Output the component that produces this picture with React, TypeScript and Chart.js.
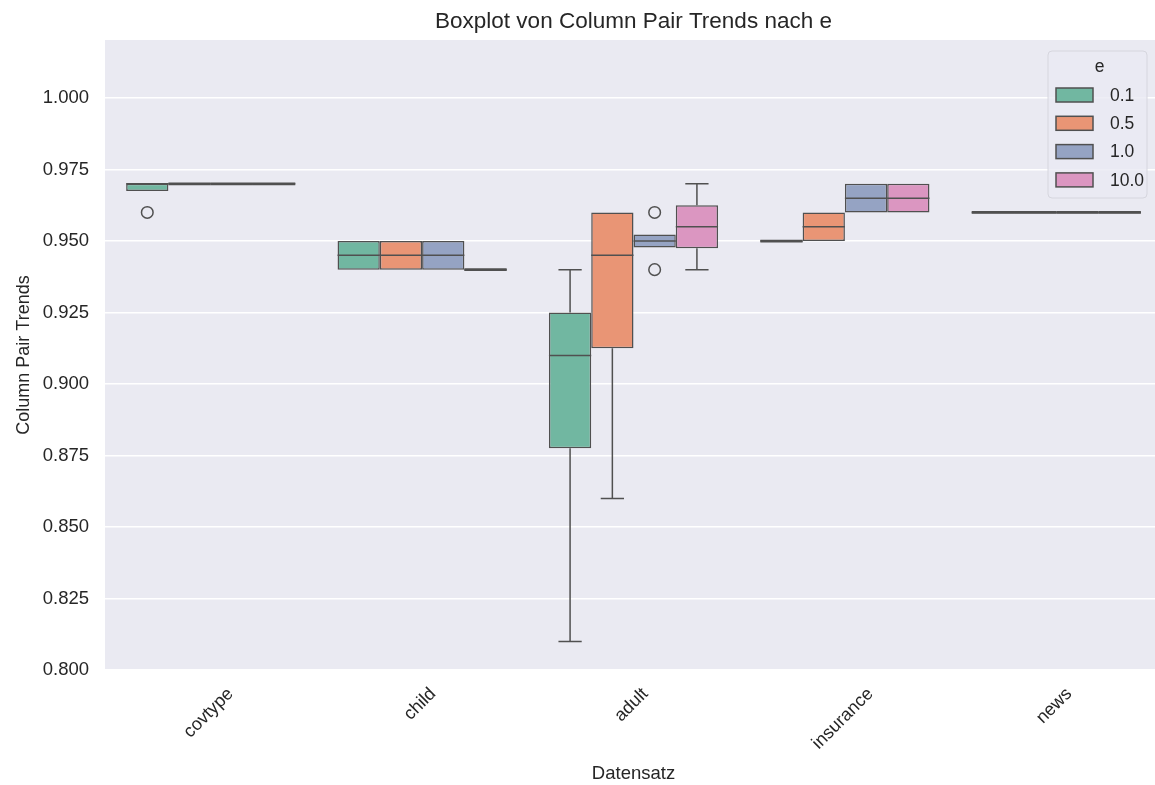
import React, { useEffect, useRef } from "react";
import { Chart, registerables } from "chart.js";

Chart.register(...registerables);

const categories = ["covtype", "child", "adult", "insurance", "news"];
const epsLabels = ["0.1", "0.5", "1.0", "10.0"];
const colors = ["#71b7a1", "#e99575", "#95a3c3", "#db96c1"];
const yTicks = [0.8, 0.825, 0.85, 0.875, 0.9, 0.925, 0.95, 0.975, 1.0];

// per epsilon: values per category
const q1_01 = [0.9675, 0.94, 0.8775, 0.95, 0.96];
const med_01 = [0.97, 0.945, 0.91, 0.95, 0.96];
const q3_01 = [0.97, 0.95, 0.925, 0.95, 0.96];
const lo_01 = [0.9675, 0.94, 0.81, 0.95, 0.96];
const hi_01 = [0.97, 0.95, 0.94, 0.95, 0.96];
const out_01 = [[0.96], [], [], [], []];

const q1_05 = [0.97, 0.94, 0.9125, 0.95, 0.96];
const med_05 = [0.97, 0.945, 0.945, 0.955, 0.96];
const q3_05 = [0.97, 0.95, 0.96, 0.96, 0.96];
const lo_05 = [0.97, 0.94, 0.86, 0.95, 0.96];
const hi_05 = [0.97, 0.95, 0.96, 0.96, 0.96];
const out_05 = [[], [], [], [], []];

const q1_10 = [0.97, 0.94, 0.9477, 0.96, 0.96];
const med_10 = [0.97, 0.945, 0.95, 0.965, 0.96];
const q3_10 = [0.97, 0.95, 0.9523, 0.97, 0.96];
const lo_10 = [0.97, 0.94, 0.9477, 0.96, 0.96];
const hi_10 = [0.97, 0.95, 0.9523, 0.97, 0.96];
const out_10 = [[], [], [0.94, 0.96], [], []];

const q1_100 = [0.97, 0.94, 0.9475, 0.96, 0.96];
const med_100 = [0.97, 0.94, 0.955, 0.965, 0.96];
const q3_100 = [0.97, 0.94, 0.9625, 0.97, 0.96];
const lo_100 = [0.97, 0.94, 0.94, 0.96, 0.96];
const hi_100 = [0.97, 0.94, 0.97, 0.97, 0.96];
const out_100 = [[], [], [], [], []];

const groups = [
  { q1: q1_01, med: med_01, q3: q3_01, lo: lo_01, hi: hi_01, out: out_01 },
  { q1: q1_05, med: med_05, q3: q3_05, lo: lo_05, hi: hi_05, out: out_05 },
  { q1: q1_10, med: med_10, q3: q3_10, lo: lo_10, hi: hi_10, out: out_10 },
  { q1: q1_100, med: med_100, q3: q3_100, lo: lo_100, hi: hi_100, out: out_100 },
];

const LINE = "#505050";
const FONT = "'Liberation Sans', Arial, sans-serif";
const TEXT = "#262626";

const bgPlugin = {
  id: "bgPlugin",
  beforeDraw(chart: any) {
    const { ctx, chartArea, width, height } = chart;
    ctx.save();
    ctx.fillStyle = "#ffffff";
    ctx.fillRect(0, 0, width, height);
    ctx.fillStyle = "#eaeaf2";
    ctx.fillRect(chartArea.left, chartArea.top, chartArea.right - chartArea.left, chartArea.bottom - chartArea.top);
    ctx.restore();
  },
};

const boxPlugin = {
  id: "boxPlugin",
  afterDatasetsDraw(chart: any) {
    const { ctx } = chart;
    const y = chart.scales.y;
    ctx.save();
    ctx.strokeStyle = LINE;
    ctx.lineWidth = 1.5;
    groups.forEach((g, di) => {
      const meta = chart.getDatasetMeta(di);
      meta.data.forEach((bar: any, i: number) => {
        const x = bar.x;
        const w = bar.width;
        const capW = w * 0.55;
        const yq1 = y.getPixelForValue(g.q1[i]);
        const yq3 = y.getPixelForValue(g.q3[i]);
        const ylo = y.getPixelForValue(g.lo[i]);
        const yhi = y.getPixelForValue(g.hi[i]);
        const ym = y.getPixelForValue(g.med[i]);
        ctx.beginPath();
        if (ylo > yq1 + 0.5) {
          ctx.moveTo(x, yq1);
          ctx.lineTo(x, ylo);
          ctx.moveTo(x - capW / 2, ylo);
          ctx.lineTo(x + capW / 2, ylo);
        }
        if (yhi < yq3 - 0.5) {
          ctx.moveTo(x, yq3);
          ctx.lineTo(x, yhi);
          ctx.moveTo(x - capW / 2, yhi);
          ctx.lineTo(x + capW / 2, yhi);
        }
        ctx.moveTo(x - w / 2, ym);
        ctx.lineTo(x + w / 2, ym);
        ctx.stroke();
        if (Math.abs(yq3 - yq1) < 1) {
          ctx.save();
          ctx.lineWidth = 2.8;
          ctx.beginPath();
          ctx.moveTo(x - w / 2, ym);
          ctx.lineTo(x + w / 2, ym);
          ctx.stroke();
          ctx.restore();
        }
        g.out[i].forEach((v: number) => {
          ctx.beginPath();
          ctx.arc(x, y.getPixelForValue(v), 5.8, 0, Math.PI * 2);
          ctx.stroke();
        });
      });
    });
    ctx.restore();
  },
};

const xLabelPlugin = {
  id: "xLabelPlugin",
  afterDraw(chart: any) {
    const { ctx, chartArea } = chart;
    const xs = chart.scales.x;
    ctx.save();
    const fs = 18;
    ctx.font = `${fs}px ${FONT}`;
    ctx.fillStyle = TEXT;
    ctx.textAlign = "center";
    ctx.textBaseline = "middle";
    categories.forEach((c, i) => {
      const px = xs.getPixelForTick(i) - 2;
      const L = ctx.measureText(c).width;
      const h = fs * 0.8;
      const bboxH = (L + h) * Math.SQRT1_2;
      const cy = chartArea.bottom + 16 + bboxH / 2;
      ctx.save();
      ctx.translate(px, cy);
      ctx.rotate(-Math.PI / 4);
      ctx.fillText(c, 0, 0);
      ctx.restore();
    });
    ctx.restore();
  },
};

const legendPlugin = {
  id: "legendPlugin",
  afterDraw(chart: any) {
    const { ctx, chartArea } = chart;
    ctx.save();
    const x0 = chartArea.right - 114;
    const y0 = chartArea.top + 11;
    const w = 99;
    const h = 147;
    const r = 4;
    ctx.beginPath();
    ctx.moveTo(x0 + r, y0);
    ctx.lineTo(x0 + w - r, y0);
    ctx.arcTo(x0 + w, y0, x0 + w, y0 + r, r);
    ctx.lineTo(x0 + w, y0 + h - r);
    ctx.arcTo(x0 + w, y0 + h, x0 + w - r, y0 + h, r);
    ctx.lineTo(x0 + r, y0 + h);
    ctx.arcTo(x0, y0 + h, x0, y0 + h - r, r);
    ctx.lineTo(x0, y0 + r);
    ctx.arcTo(x0, y0, x0 + r, y0, r);
    ctx.closePath();
    ctx.fillStyle = "rgba(234,234,242,0.8)";
    ctx.fill();
    ctx.strokeStyle = "#d6d6de";
    ctx.lineWidth = 1;
    ctx.stroke();
    ctx.fillStyle = TEXT;
    ctx.font = `17.5px ${FONT}`;
    ctx.textAlign = "center";
    ctx.textBaseline = "middle";
    ctx.fillText("e", x0 + w / 2 + 2, y0 + 16);
    epsLabels.forEach((lab, i) => {
      const cy = y0 + 44 + i * 28.3;
      ctx.fillStyle = colors[i];
      ctx.fillRect(x0 + 8, cy - 7, 37, 14);
      ctx.strokeStyle = LINE;
      ctx.lineWidth = 1.5;
      ctx.strokeRect(x0 + 8, cy - 7, 37, 14);
      ctx.fillStyle = TEXT;
      ctx.textAlign = "left";
      ctx.fillText(lab, x0 + 62, cy + 1);
    });
    ctx.restore();
  },
};

export default function App() {
  const ref = useRef<HTMLCanvasElement | null>(null);
  useEffect(() => {
    if (!ref.current) return;
    const datasets = groups.map((g, di) => ({
      label: epsLabels[di],
      data: g.q1.map((v, i) => [v, g.q3[i]]),
      backgroundColor: colors[di],
      borderColor: LINE,
      borderWidth: 1.5,
      borderSkipped: false,
      categoryPercentage: 0.8,
      barPercentage: 1.0,
    }));
    const chart = new Chart(ref.current, {
      type: "bar",
      data: { labels: categories, datasets },
      options: {
        animation: false,
        responsive: false,
        layout: { padding: { left: 0, right: 0, top: 0, bottom: 0 } },
        plugins: {
          legend: { display: false },
          tooltip: { enabled: false },
          title: {
            display: true,
            fullSize: false,
            text: "Boxplot von Column Pair Trends nach e",
            color: TEXT,
            font: { family: FONT, size: 22.5, weight: "normal" },
            padding: { top: 8.5, bottom: 4.5 },
          },
        },
        scales: {
          x: {
            grid: { display: false },
            border: { display: false },
            ticks: { display: false },
            title: {
              display: true,
              text: "Datensatz",
              color: TEXT,
              font: { family: FONT, size: 18.5 },
              padding: { top: 0, bottom: 0 },
            },
            afterFit: (axis: any) => {
              axis.height = 115;
            },
          },
          y: {
            min: 0.8,
            max: 1.0203,
            grid: { color: "#ffffff", lineWidth: 1.5, drawTicks: false },
            border: { display: false },
            afterBuildTicks: (axis: any) => {
              axis.ticks = yTicks.map((v) => ({ value: v }));
            },
            ticks: {
              color: TEXT,
              padding: 16,
              font: { family: FONT, size: 18.5 },
              callback: (v: any) => Number(v).toFixed(3),
            },
            title: {
              display: true,
              text: "Column Pair Trends",
              color: TEXT,
              font: { family: FONT, size: 18 },
              padding: { top: 13, bottom: 0 },
            },
            afterFit: (axis: any) => {
              axis.width = 105;
            },
          },
        },
      },
      plugins: [bgPlugin, boxPlugin, xLabelPlugin, legendPlugin],
    } as any);
    return () => chart.destroy();
  }, []);
  return (
    <div style={{ position: "absolute", left: 0, top: 0, width: 1155, height: 785, overflow: "hidden" }}>
      <canvas ref={ref} width={1162} height={785} style={{ display: "block" }} />
    </div>
  );
}
